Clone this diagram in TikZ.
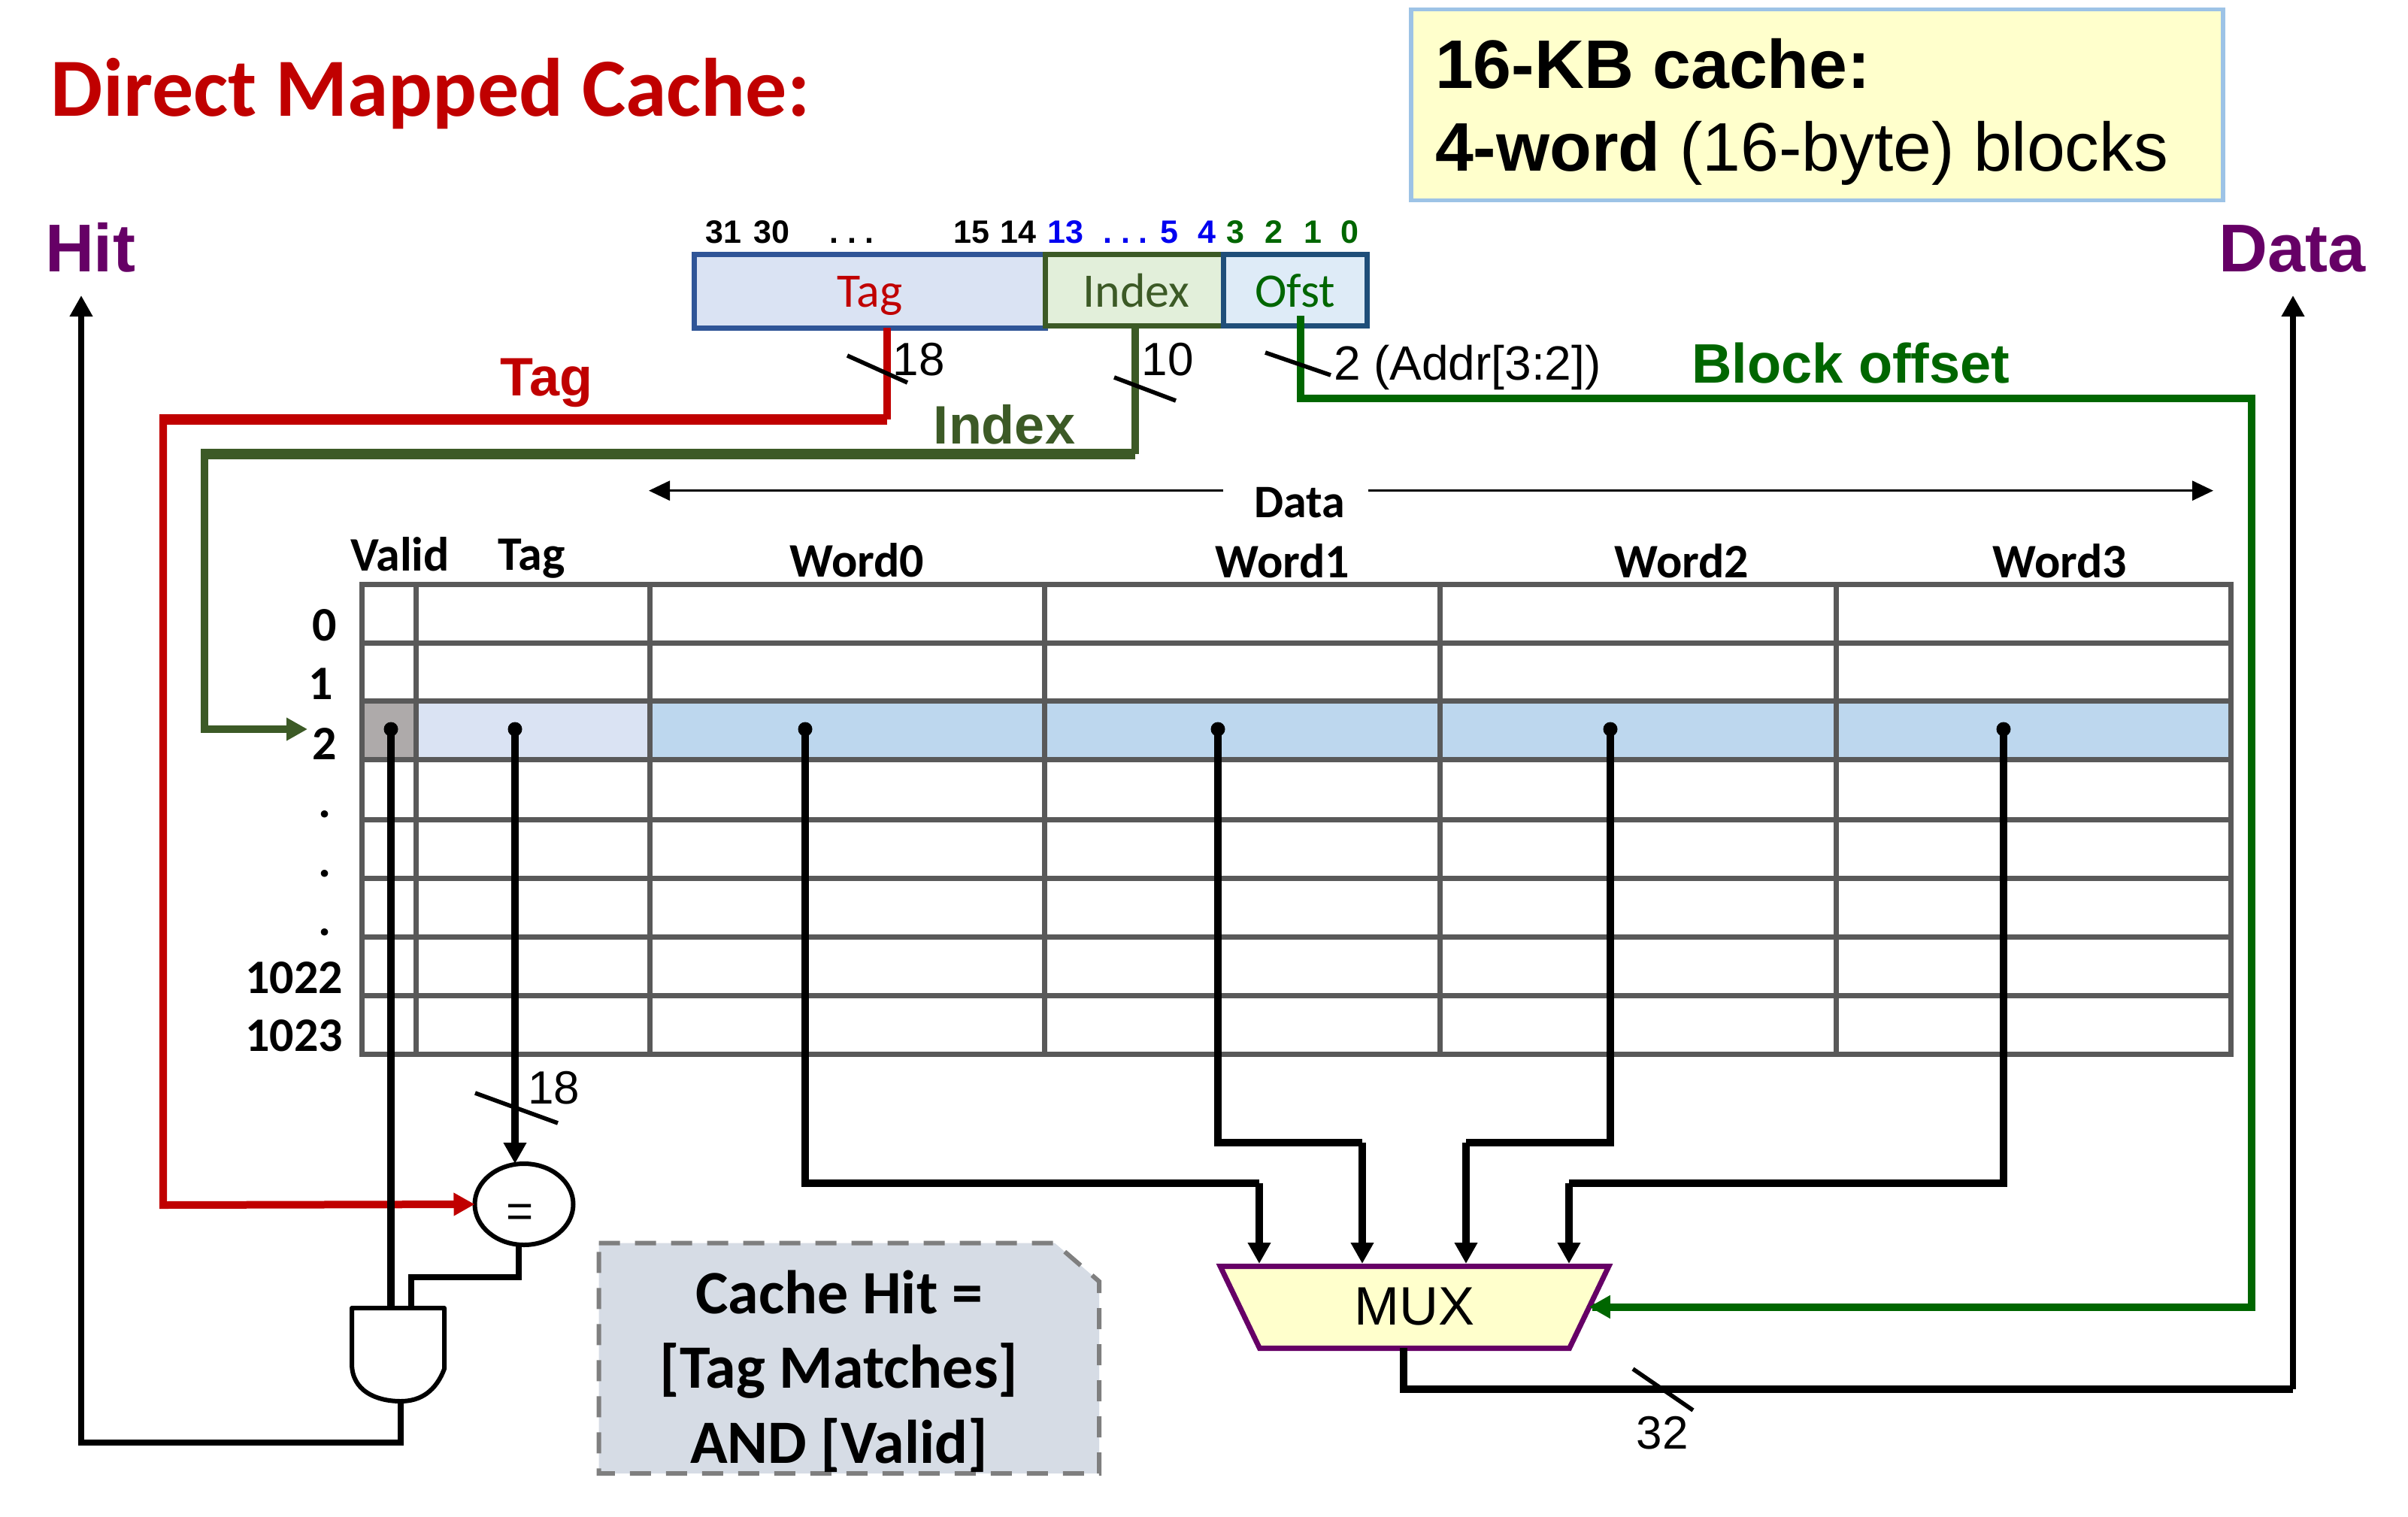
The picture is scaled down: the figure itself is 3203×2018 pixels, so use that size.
\documentclass[tikz,border=0pt]{standalone}
\usepackage{fontspec}
\usetikzlibrary{arrows.meta,shapes.geometric}
\newfontfamily\arl{Liberation Sans}
\newfontfamily\calib{Carlito}
\newcommand\fsz[1]{\fontsize{#1}{#1}\selectfont}
\definecolor{cred}{HTML}{C00000}
\definecolor{colive}{HTML}{3C5A26}
\definecolor{cgreen}{HTML}{006600}
\definecolor{cpurple}{HTML}{660066}
\definecolor{cblue}{HTML}{0000F0}
\definecolor{cgrid}{HTML}{595959}
\definecolor{cyell}{HTML}{FFFFCC}
\tikzset{
  txt/.style={inner sep=0pt,outer sep=0pt,anchor=base},
  txtl/.style={txt,anchor=base west},
  bit/.style={txt,font=\arl\bfseries\fsz{21.5}},
  cellhead/.style={txt,font=\calib\bfseries\fsz{32}},
  rowlab/.style={txt,font=\calib\bfseries\fsz{32}},
  width/.style={txt,font=\arl\fsz{31}},
  sigbold/.style={txt,font=\arl\bfseries\fsz{36}},
  field/.style={inner sep=0pt,outer sep=0pt,line width=3.5pt,font=\calib\fsz{32},text depth=0pt},
  gridline/.style={cgrid,line width=3.5pt},
  wire/.style={black,line width=5pt},
  thin wire/.style={black,line width=4pt},
  tick/.style={black,line width=2.8pt},
  ahead/.style={-{Triangle[width=14.5pt,length=14pt]}},
  dotn/.style={circle,fill=black,inner sep=0pt,minimum size=9.5pt},
}
\begin{document}
\begin{tikzpicture}[x=0.5pt,y=-0.5pt]
\useasboundingbox (0,0) rectangle (3203,2018);
\fill[white] (0,0) rectangle (3203,2018);

% titles
\node[txtl,font=\calib\bfseries\fsz{55},text=cred] (title) at (68,154) {Direct Mapped Cache:};
\node[fill=cyell,minimum width=1080*0.5pt,minimum height=254*0.5pt,inner sep=0pt,outer sep=0pt,line width=2.6pt,draw={rgb,255:red,157;green,195;blue,230}] (info) at (2417,139.5) {};
\node[txtl,font=\arl\fsz{45.7}] (info1) at (1909,117) {\bfseries 16-KB cache:};
\node[txtl,font=\arl\fsz{45.7}] (info2) at (1909,227) {\textbf{4-word} (16-byte) blocks};
\node[txt,font=\arl\bfseries\fsz{45},text=cpurple] (hit) at (120,361) {Hit};
\node[txt,font=\arl\bfseries\fsz{45},text=cpurple] (dataout) at (3049,361) {Data};

% bit numbers
\foreach \n/\t/\px/\c in {b31/31/962/black,b30/30/1026/black,bd1/{.\;.\;.}/1133/black,b15/15/1292/black,b14/14/1354/black,
  b13/13/1417/cblue,bd2/{.\;.\;.}/1497/cblue,b5/5/1555/cblue,b4/4/1605/cblue,
  b3/3/1643/cgreen,b2/2/1694/cgreen,b1/1/1746/cgreen,b0/0/1795/cgreen}
  \node[bit,text=\c] (\n) at (\px,323) {\t};

% address fields
\node[field,draw={rgb,255:red,47;green,85;blue,151},fill={rgb,255:red,218;green,227;blue,243},text=cred,
  minimum width=466.5*0.5pt,minimum height=98*0.5pt,text height=21pt] (atag) at (1156.75,387) {Tag};
\node[field,draw=colive,fill={rgb,255:red,226;green,239;blue,218},text=colive,
  minimum width=237*0.5pt,minimum height=95.5*0.5pt,text height=22.5pt] (aidx) at (1508.5,385.75) {\kern3pt Index};
\node[field,draw={rgb,255:red,31;green,78;blue,121},fill={rgb,255:red,222;green,235;blue,247},text=cgreen,
  minimum width=191*0.5pt,minimum height=95.5*0.5pt,text height=22.5pt] (aofs) at (1722.5,385.75) {Ofst};

% cache rows
\fill[fill={rgb,255:red,174;green,170;blue,170}] (481.5,932.5) rectangle (553,1010.6);
\fill[fill={rgb,255:red,218;green,227;blue,243}] (553,932.5) rectangle (864,1010.6);
\fill[fill={rgb,255:red,189;green,215;blue,238}] (864,932.5) rectangle (2967.5,1010.6);
\foreach \yy in {855,932.5,1010.6,1090.6,1168.6,1246.7,1324}
  \draw[gridline] (481.5,\yy) -- (2967.5,\yy);
\foreach \xx in {553,864,1389,1915,2442}
  \draw[gridline] (\xx,777.5) -- (\xx,1402.7);
\draw[gridline] (481.5,777.5) rectangle (2967.5,1402.7);

% table headings
\node[cellhead] (hvalid) at (532,759) {Valid};
\node[cellhead] (htag) at (707,758) {Tag};
\node[cellhead] (hw0) at (1140,767) {Word0};
\node[cellhead] (hw1) at (1706,768) {Word1};
\node[cellhead] (hw2) at (2237,768) {Word2};
\node[cellhead] (hw3) at (2740,768) {Word3};
\node[rowlab] (r0) at (432,852) {0};
\node[rowlab] (r1) at (427,930.5) {1};
\node[rowlab] (r2) at (432,1010) {2};
\node[rowlab] (rd1) at (432,1087) {.};
\node[rowlab] (rd2) at (432,1166) {.};
\node[rowlab] (rd3) at (432,1244) {.};
\node[rowlab] (r1022) at (391,1321) {1022};
\node[rowlab] (r1023) at (391,1398) {1023};

% Data span
\node[cellhead,font=\calib\bfseries\fsz{31}] (hdata) at (1729,688) {Data};
\coordinate (dsl) at (1627,652.7);
\coordinate (dsr) at (1820,652.7);
\coordinate (dsle) at (863,652.7);
\coordinate (dsre) at (2944,652.7);
\draw[line width=1.5pt,-{Triangle[width=13pt,length=14pt]}] (dsl) -- (dsle);
\draw[line width=1.5pt,-{Triangle[width=13pt,length=14pt]}] (dsr) -- (dsre);

% signal labels
\node[sigbold,text=cred] (ltag) at (727,526) {Tag};
\node[sigbold,text=colive] (lidx) at (1336,590) {Index};
\node[txtl,font=\arl\bfseries\fsz{37},text=cgreen] (loff) at (2250,509) {Block offset};

% dots
\node[dotn] (dv) at (520,970) {};
\node[dotn] (dt) at (685,970) {};
\node[dotn] (dw0) at (1071,970) {};
\node[dotn] (dw1) at (1620,970) {};
\node[dotn] (dw2) at (2142,970) {};
\node[dotn] (dw3) at (2665,970) {};

% coordinates of the routes
\coordinate (tagout) at (1180,436);
\coordinate (tagc) at (1180,558);
\coordinate (tagl) at (217,558);
\coordinate (tagd) at (217,551);
\coordinate (redc) at (217,1603);
\coordinate (idxout) at (1510,433);
\coordinate (idxc) at (1510,604);
\coordinate (idxl) at (272,604);
\coordinate (idxd) at (272,597);
\coordinate (row2) at (409,970);
\coordinate (ofsout) at (1729.5,420);
\coordinate (ofsc) at (1729.5,530);
\coordinate (ofsr) at (2995,530);
\coordinate (muxs) at (2118,1738.5);
\coordinate (j0) at (1675,1574);
\coordinate (j1) at (1812,1520);
\coordinate (j2) at (1950,1520);
\coordinate (j3) at (2087,1574);
\coordinate (m0) at (1675,1681);
\coordinate (m1) at (1812,1681);
\coordinate (m2) at (1950,1681);
\coordinate (m3) at (2087,1681);
\coordinate (mout) at (1867,1793);
\coordinate (outc) at (3050,1848);
\coordinate (outt) at (3050,393);
\coordinate (hitc) at (108,1919);
\coordinate (hitt) at (108,393);
\coordinate (andv) at (520,1740);
\coordinate (andc) at (547,1740);
\coordinate (ando) at (533,1864);

% comparator
\node[ellipse,draw=black,fill=white,line width=3pt,minimum width=131*0.5pt,minimum height=108*0.5pt,inner sep=0pt,outer sep=0pt] (cmp) at (697,1602) {};
\node[txt,font=\arl\fsz{31}] (eq) at (692,1632) {=};

% coloured wires
\draw[cred,line width=5pt] (tagout) -- (tagc);
\draw[cred,line width=7pt] (tagc) -- (tagl);
\draw[cred,line width=5pt,ahead] (tagd) -- (redc) -- (cmp.west);
\draw[colive,line width=5pt] (idxout) -- (idxc);
\draw[colive,line width=7pt] (idxc) -- (idxl);
\draw[colive,line width=5pt,ahead] (idxd) |- (row2);
\draw[cgreen,line width=5pt] (ofsout) -- (ofsc) -- (ofsr) |- (muxs);

% MUX
\node[trapezium,trapezium stretches=true,shape border rotate=180,trapezium angle=69,draw=cpurple,fill=cyell,line width=3.5pt,
  minimum width=521*0.5pt,minimum height=109*0.5pt,inner sep=0pt,outer sep=0pt,font=\arl\fsz{36}] (mux) at (1881.5,1739) {\raisebox{1.7pt}{MUX}};
\draw[cgreen,line width=5pt,ahead] (2130,1738.5) -- (mux.east |- muxs);

% black wires
\draw[wire] (dv.center) -- (andv);
\draw[wire,ahead] (dt.center) -- (cmp.north -| dt);
\draw[wire] (dw0.center) |- (j0);
\draw[wire,ahead] (j0) -- (m0);
\draw[wire] (dw1.center) |- (j1);
\draw[wire,ahead] (j1) -- (m1);
\draw[wire] (dw2.center) |- (j2);
\draw[wire,ahead] (j2) -- (m2);
\draw[wire] (dw3.center) |- (j3);
\draw[wire,ahead] (j3) -- (m3);
\draw[wire] (mout) |- (outc);
\draw[thin wire,line width=4.3pt,ahead] (outc) -- (outt);
\draw[thin wire] (cmp.south -| 690,0) -- (690,1699) -| (andc);
\draw[thin wire,line width=4.3pt,ahead] (ando) |- (hitc) -- (hitt);

% AND gate
\draw[black,fill=white,line width=3pt,line join=round]
  (468,1740) -- (591,1740) -- (591,1821) .. controls (580,1850) and (560,1864) .. (533,1864)
  .. controls (500,1864) and (468,1850) .. (468,1814) -- cycle;

% bus ticks and widths
\draw[tick] (1127,473) -- (1207,509);
\draw[tick] (1482,502) -- (1564,533);
\draw[tick] (1683,469) -- (1770,499);
\draw[tick] (632,1454) -- (742,1494);
\draw[tick] (2172,1821) -- (2252,1876);
\node[width] (w18a) at (1222,499) {18};
\node[width] (w10) at (1553,499) {10};
\node[txtl,font=\arl\fsz{32}] (w2) at (1774,505) {2 (Addr[3:2])};
\node[width] (w18b) at (737,1468) {18};
\node[width] (w32) at (2211,1927) {32};

% note
\draw[fill={rgb,255:red,214;green,220;blue,229},draw={rgb,255:red,127;green,127;blue,127},line width=3pt,dash pattern=on 14pt off 10pt]
  (796.5,1653.6) -- (1403,1653.6) -- (1462,1704.6) -- (1462,1960) -- (796.5,1960) -- cycle;
\node[txt,font=\calib\bfseries\fsz{41}] (note1) at (1116,1747) {Cache Hit =};
\node[txt,font=\calib\bfseries\fsz{41}] (note2) at (1116,1846) {[Tag Matches]};
\node[txt,font=\calib\bfseries\fsz{41}] (note3) at (1116,1946) {AND [Valid]};
\end{tikzpicture}
\end{document}
